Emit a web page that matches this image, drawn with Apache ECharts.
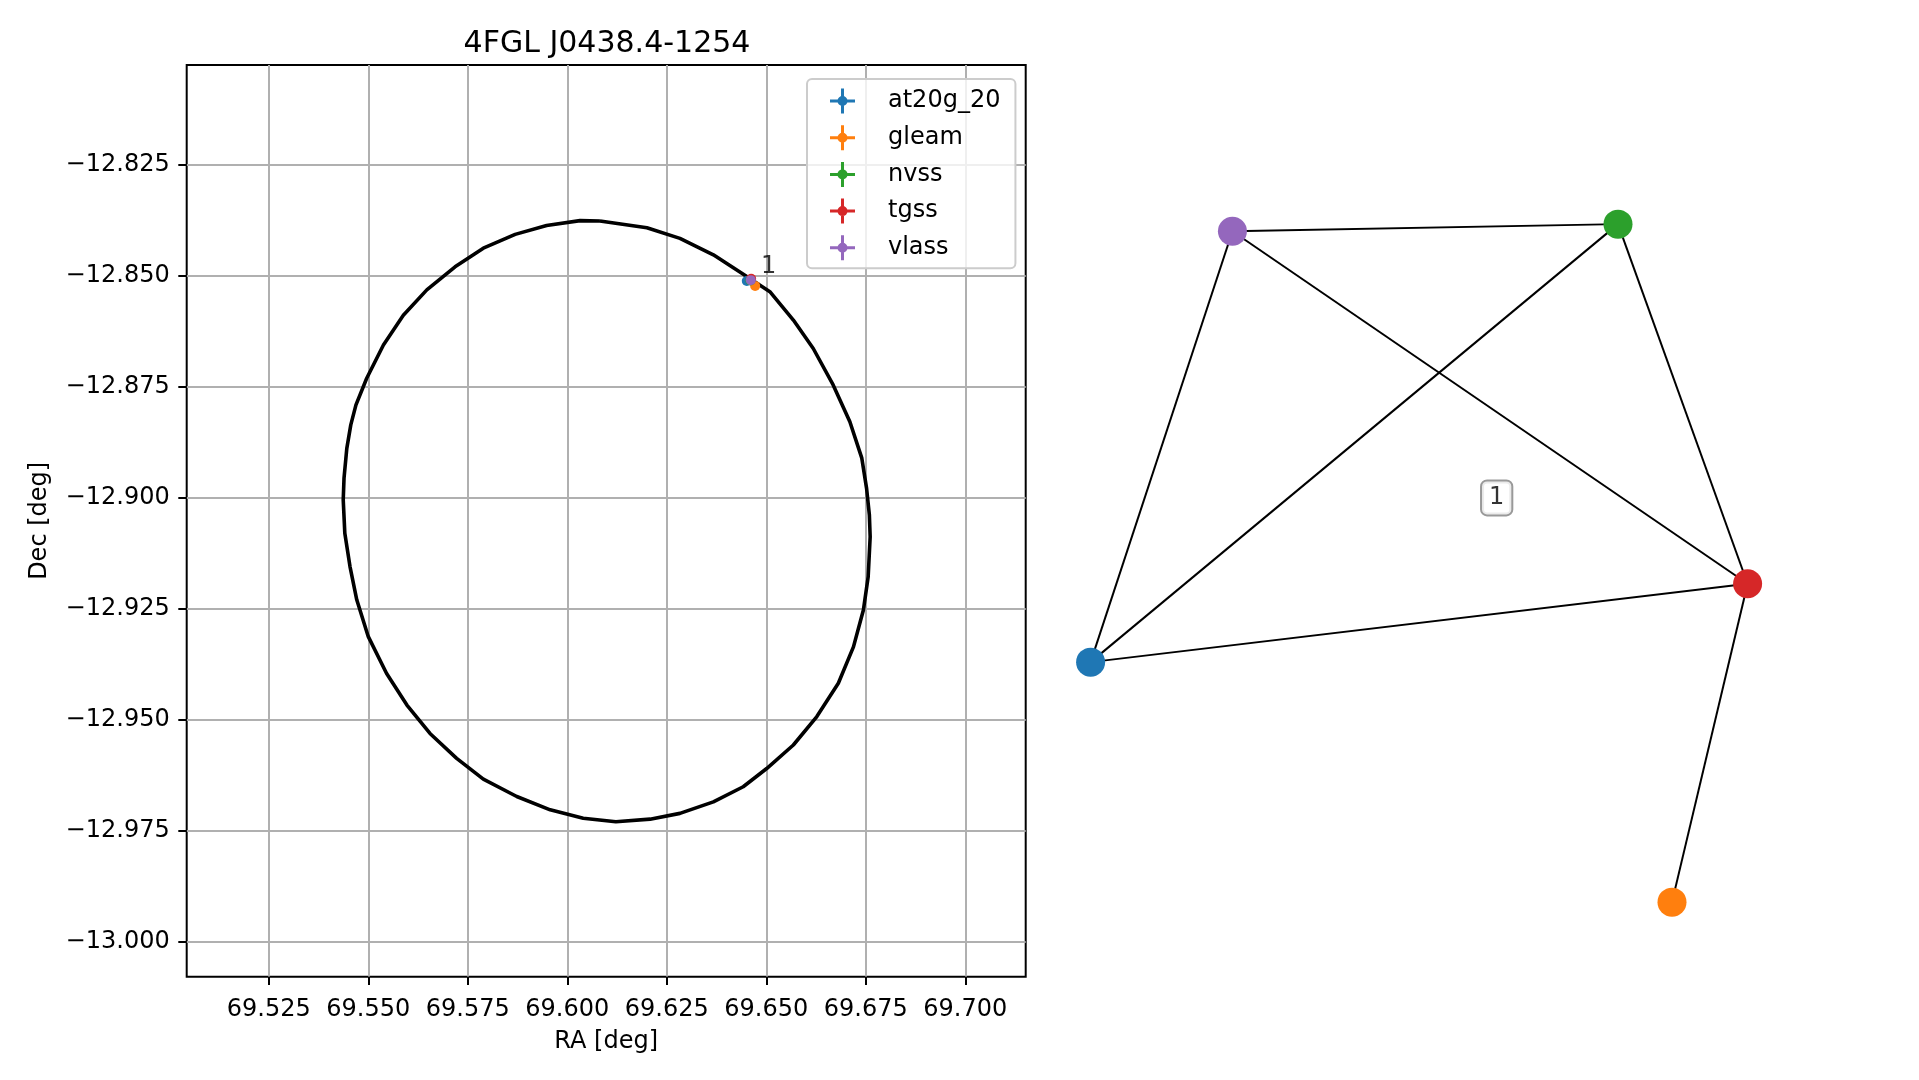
<!DOCTYPE html>
<html>
<head>
<meta charset="utf-8">
<script src="https://cdn.jsdelivr.net/npm/echarts@6/dist/echarts.min.js"></script>
<style>
html,body{margin:0;padding:0;background:#fff;}
#chart{width:1919px;height:1080px;}
</style>
</head>
<body>
<div id="chart"></div>
<script>
// ---------- data ----------
const titleText = '4FGL J0438.4-1254';
const raTicks = [69.525, 69.550, 69.575, 69.600, 69.625, 69.650, 69.675, 69.700];
const decTicks = [-13.000, -12.975, -12.950, -12.925, -12.900, -12.875, -12.850, -12.825];
const raRange = [69.50437, 69.71518];
const decRange = [-13.00788, -12.80255];

// 4FGL error ellipse outline (RA, Dec)
const ellipseRA = [69.6082, 69.6200, 69.6283, 69.6367, 69.6451, 69.6509, 69.6568, 69.6618, 69.6668, 69.6710,
  69.6740, 69.6752, 69.6759, 69.6761, 69.6756, 69.6744, 69.6719, 69.6681, 69.6627, 69.6568,
  69.6501, 69.6442, 69.6367, 69.6283, 69.6208, 69.6122, 69.6040, 69.5957, 69.5873, 69.5789,
  69.5722, 69.5655, 69.5597, 69.5546, 69.5500, 69.5471, 69.5454, 69.5441, 69.5437, 69.5439,
  69.5446, 69.5456, 69.5469, 69.5496, 69.5538, 69.5588, 69.5647, 69.5718, 69.5789, 69.5869,
  69.5948, 69.6032, 69.6082];
const ellipseDec = [-12.8377, -12.8392, -12.8416, -12.8453, -12.8502, -12.8536, -12.8600, -12.8664, -12.8746, -12.8829,
  -12.8911, -12.8979, -12.9039, -12.9088, -12.9178, -12.9253, -12.9336, -12.9418, -12.9493, -12.9557,
  -12.9610, -12.9651, -12.9685, -12.9711, -12.9724, -12.9730, -12.9722, -12.9703, -12.9673, -12.9634,
  -12.9587, -12.9531, -12.9467, -12.9396, -12.9313, -12.9230, -12.9155, -12.9080, -12.9005, -12.8956,
  -12.8889, -12.8836, -12.8791, -12.8731, -12.8656, -12.8589, -12.8532, -12.8480, -12.8438, -12.8407,
  -12.8387, -12.8376, -12.8377];

// radio sources
const sourceNames = ['at20g_20', 'gleam', 'nvss', 'tgss', 'vlass'];
const sourceRA  = [69.6451, 69.6472, 69.6460, 69.6462, 69.6461];
const sourceDec = [-12.8512, -12.8523, -12.8511, -12.8507, -12.8510];
const sourceColors = ['#1f77b4', '#ff7f0e', '#2ca02c', '#d62728', '#9467bd'];
const clusterLabel = '1';
const clusterLabelPos = [69.6506, -12.8479];

// association graph (layout positions)
const nodeX = [-0.915, 0.700, 0.550, 0.910, -0.521];
const nodeY = [-0.259, -0.899, 0.909, -0.050, 0.890];
const edges = [['vlass','nvss'], ['vlass','at20g_20'], ['vlass','tgss'], ['nvss','at20g_20'],
               ['nvss','tgss'], ['at20g_20','tgss'], ['tgss','gleam']];
const graphLabelPos = [0.213, 0.179];

// ---------- chart ----------
const FONT = 'DejaVu Sans';
const chart = echarts.init(document.getElementById('chart'), null, {renderer: 'canvas'});

const legendIcon = 'path://M0,11H25V14H0Z M11,0H14V25H11Z M17.5,12.5A5,5 0 1 1 7.5,12.5A5,5 0 1 1 17.5,12.5Z';

const fmt3 = v => (v < 0 ? '\u2212' : '') + Math.abs(v).toFixed(3);

const series = [];
series.push({
  type: 'line', name: 'ellipse', xAxisIndex: 0, yAxisIndex: 0,
  data: ellipseRA.map((r, i) => [r, ellipseDec[i]]),
  showSymbol: false, symbol: 'none', silent: true,
  lineStyle: {color: '#000', width: 3.6}, z: 3
});
sourceNames.forEach((n, i) => {
  series.push({
    type: 'scatter', name: n, xAxisIndex: 0, yAxisIndex: 0,
    data: [[sourceRA[i], sourceDec[i]]],
    symbol: 'circle', symbolSize: 10,
    itemStyle: {color: sourceColors[i], opacity: 1}, z: 4 + i
  });
});
series.push({
  type: 'scatter', name: 'clusterLabel', xAxisIndex: 0, yAxisIndex: 0,
  data: [clusterLabelPos], symbolSize: 0, silent: true, z: 10,
  label: {show: true, position: 'inside', formatter: clusterLabel, color: '#000',
          fontSize: 24, fontFamily: FONT}
});
series.push({
  type: 'graph', coordinateSystem: 'cartesian2d', xAxisIndex: 1, yAxisIndex: 1,
  data: sourceNames.map((n, i) => ({name: n, value: [nodeX[i], nodeY[i]], itemStyle: {color: sourceColors[i]}})),
  links: edges.map(e => ({source: e[0], target: e[1]})),
  symbol: 'circle', symbolSize: 29, silent: true,
  lineStyle: {color: '#000', width: 2, opacity: 1, curveness: 0},
  label: {show: false}, z: 3
});
series.push({
  type: 'scatter', name: 'graphLabel', xAxisIndex: 1, yAxisIndex: 1,
  data: [graphLabelPos], symbolSize: 0, silent: true, z: 10,
  label: {show: true, position: 'inside', formatter: clusterLabel, color: '#000',
          fontSize: 24, fontFamily: FONT, backgroundColor: '#fff',
          borderColor: '#808080', borderWidth: 2, borderRadius: 5, padding: [5, 7, 4, 7]}
});

chart.setOption({
  animation: false,
  backgroundColor: '#fff',
  title: {
    text: titleText, left: 602, top: 24, textAlign: 'center',
    textStyle: {fontFamily: FONT, fontSize: 30, fontWeight: 'normal', color: '#000', lineHeight: 30}
  },
  legend: {
    data: sourceNames.map(n => ({name: n, icon: legendIcon})),
    orient: 'vertical', left: 807, top: 79,
    itemWidth: 25, itemHeight: 25, itemGap: 11.7,
    padding: [9.5, 15, 8, 23],
    backgroundColor: 'rgba(255,255,255,0.8)', borderColor: '#cccccc', borderWidth: 2, borderRadius: 5,
    textStyle: {fontFamily: FONT, fontSize: 24, color: '#000', padding: [0, 0, 0, 28]},
    selectedMode: false, z: 20
  },
  grid: [
    {left: 186.7, top: 65, width: 839, height: 911.7, show: true, borderColor: '#000', borderWidth: 2, backgroundColor: 'transparent'},
    {left: 1060, top: 190, width: 720, height: 750, show: false}
  ],
  xAxis: [
    {
      type: 'value', gridIndex: 0, min: raRange[0], max: raRange[1],
      name: 'RA [deg]', nameLocation: 'middle', nameGap: 53,
      nameTextStyle: {fontFamily: FONT, fontSize: 24, color: '#000'},
      axisLine: {show: false},
      axisTick: {show: true, customValues: raTicks, length: 8.4, lineStyle: {color: '#000', width: 2}},
      axisLabel: {show: true, customValues: raTicks, formatter: v => v.toFixed(3), margin: 21,
                  fontFamily: FONT, fontSize: 24, color: '#000'},
      splitLine: {show: true, lineStyle: {color: '#b0b0b0', width: 2}}
    },
    {type: 'value', gridIndex: 1, min: -1, max: 1, show: false, splitLine: {show: false}}
  ],
  yAxis: [
    {
      type: 'value', gridIndex: 0, min: decRange[0], max: decRange[1],
      name: 'Dec [deg]', nameLocation: 'middle', nameGap: 135, nameRotate: 90,
      nameTextStyle: {fontFamily: FONT, fontSize: 24, color: '#000'},
      axisLine: {show: false},
      axisTick: {show: true, customValues: decTicks, length: 8.4, lineStyle: {color: '#000', width: 2}},
      axisLabel: {show: true, customValues: decTicks, formatter: fmt3, margin: 17,
                  fontFamily: FONT, fontSize: 24, color: '#000'},
      splitLine: {show: true, lineStyle: {color: '#b0b0b0', width: 2}}
    },
    {type: 'value', gridIndex: 1, min: -1, max: 1, show: false, splitLine: {show: false}}
  ],
  series: series
});
</script>
</body>
</html>
